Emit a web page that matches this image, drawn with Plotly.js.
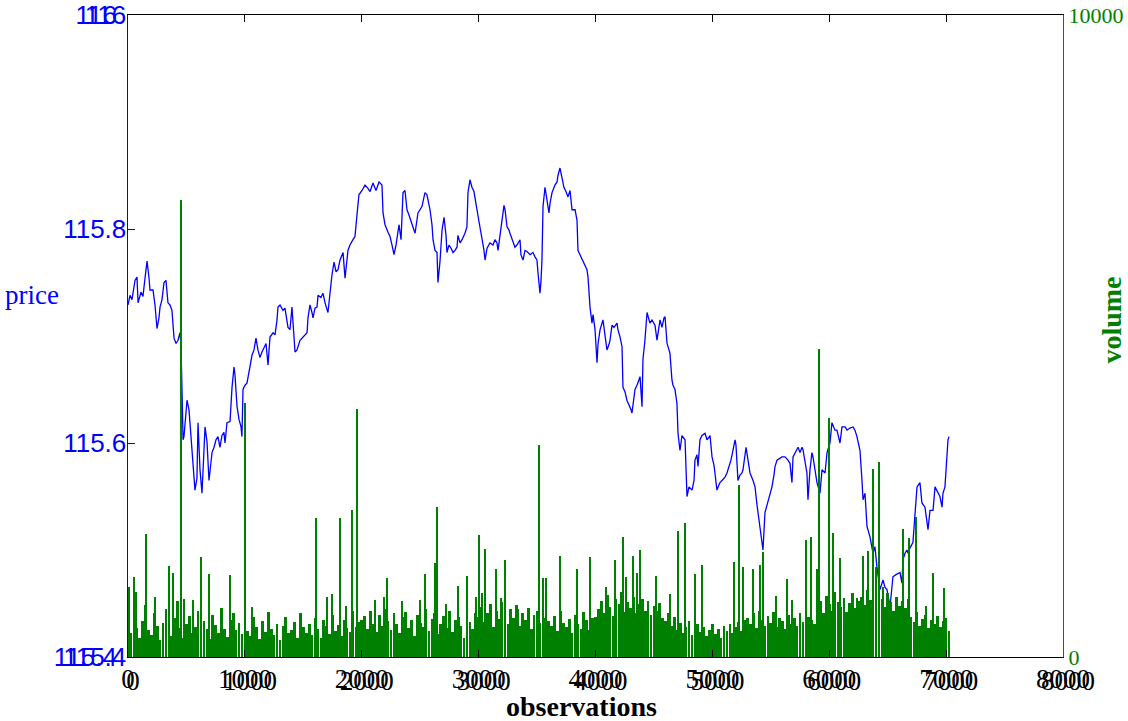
<!DOCTYPE html>
<html>
<head>
<meta charset="utf-8">
<script src="https://cdn.plot.ly/plotly-3.0.1.min.js"></script>
<style>html,body{margin:0;padding:0;background:#fff;}#chart{width:1128px;height:721px;}</style>
</head>
<body>
<div id="chart"></div>
<script>
// ---- data ----
const xTicks = [0, 1000, 2000, 3000, 4000, 5000, 6000, 7000, 8000];
const priceTicks = [115.4, 115.6, 115.8, 116];
const priceEndTicks = [115.4, 116];
const volumeTicks = [0, 10000];

const priceObs = [0,17,34,60,77,86,111,128,154,163,180,188,214,231,248,265,274,291,308,325,342,359,376,394,411,428,445,453,462,471,479,488,505,522,530,548,565,573,590,599,616,633,650,659,676,693,710,719,736,753,770,787,804,821,830,847,873,890,907,915,933,950,967,975,984,1001,1018,1044,1061,1078,1095,1112,1129,1146,1164,1181,1198,1215,1241,1258,1275,1283,1301,1326,1343,1369,1386,1403,1429,1446,1472,1506,1532,1540,1557,1574,1583,1600,1617,1626,1651,1668,1686,1711,1728,1745,1763,1780,1797,1814,1840,1857,1882,1899,1925,1942,1959,1976,2002,2028,2053,2071,2096,2122,2148,2173,2182,2199,2225,2242,2259,2276,2293,2302,2319,2336,2353,2370,2387,2404,2421,2438,2456,2481,2498,2515,2541,2558,2584,2601,2610,2627,2644,2652,2669,2687,2704,2721,2729,2746,2764,2781,2798,2815,2823,2841,2858,2883,2900,2909,2926,2943,2960,2969,2986,3003,3012,3029,3046,3055,3072,3097,3123,3140,3157,3166,3183,3200,3217,3226,3243,3260,3268,3294,3311,3328,3354,3362,3380,3397,3414,3440,3465,3482,3499,3508,3517,3525,3534,3542,3551,3568,3585,3602,3611,3628,3653,3671,3679,3696,3713,3730,3747,3765,3782,3799,3825,3842,3850,3867,3893,3910,3927,3936,3953,3970,3979,3996,4013,4022,4039,4064,4081,4098,4115,4124,4141,4158,4184,4192,4210,4227,4235,4252,4269,4287,4304,4312,4338,4355,4381,4398,4406,4423,4441,4466,4483,4509,4526,4552,4569,4586,4595,4612,4637,4654,4663,4680,4697,4706,4723,4740,4766,4783,4800,4826,4843,4851,4868,4877,4894,4911,4937,4954,4980,4997,5014,5022,5039,5057,5065,5082,5108,5125,5142,5159,5176,5194,5202,5219,5236,5253,5262,5288,5305,5322,5348,5365,5382,5399,5416,5433,5450,5467,5493,5510,5527,5536,5553,5578,5596,5621,5647,5664,5681,5690,5715,5733,5750,5767,5775,5809,5818,5835,5852,5861,5895,5912,5921,5938,5964,5981,6006,6023,6049,6066,6092,6109,6135,6152,6177,6203,6220,6237,6263,6280,6289,6306,6323,6349,6374,6391,6408,6434,6460,6477,6494,6520,6545,6571,6605,6622,6631,6648,6665,6674,6691,6716,6734,6751,6776,6793,6819,6836,6845,6862,6888,6905,6930,6947,6965,6973,6990,7007,7016,7025];

const price = [115.729,115.738,115.734,115.752,115.755,115.731,115.741,115.737,115.762,115.770,115.754,115.743,115.743,115.729,115.707,115.717,115.727,115.734,115.750,115.752,115.731,115.729,115.724,115.698,115.693,115.696,115.703,115.692,115.650,115.603,115.606,115.617,115.640,115.631,115.619,115.598,115.575,115.556,115.567,115.619,115.575,115.553,115.593,115.615,115.601,115.565,115.582,115.591,115.596,115.603,115.606,115.596,115.607,115.610,115.600,115.619,115.620,115.652,115.671,115.664,115.634,115.622,115.615,115.606,115.650,115.654,115.656,115.671,115.682,115.687,115.698,115.687,115.680,115.685,115.690,115.693,115.673,115.699,115.703,115.701,115.715,115.727,115.729,115.724,115.726,115.708,115.706,115.727,115.685,115.687,115.696,115.700,115.703,115.717,115.729,115.722,115.717,115.726,115.727,115.738,115.736,115.740,115.731,115.722,115.743,115.757,115.769,115.760,115.762,115.771,115.778,115.754,115.780,115.785,115.790,115.793,115.813,115.832,115.836,115.841,115.838,115.835,115.843,115.836,115.844,115.841,115.815,115.804,115.797,115.793,115.785,115.776,115.785,115.793,115.804,115.790,115.834,115.836,115.818,115.813,115.807,115.801,115.796,115.815,115.818,115.821,115.834,115.832,115.818,115.804,115.790,115.780,115.778,115.750,115.769,115.799,115.811,115.794,115.778,115.785,115.782,115.778,115.780,115.783,115.794,115.787,115.790,115.796,115.802,115.834,115.846,115.839,115.835,115.830,115.818,115.807,115.802,115.790,115.780,115.771,115.782,115.787,115.785,115.790,115.787,115.780,115.797,115.808,115.822,115.818,115.802,115.799,115.796,115.787,115.783,115.785,115.790,115.776,115.771,115.780,115.779,115.776,115.778,115.774,115.771,115.759,115.743,115.740,115.752,115.771,115.821,115.839,115.827,115.815,115.824,115.834,115.841,115.844,115.850,115.857,115.848,115.839,115.835,115.830,115.836,115.818,115.818,115.808,115.780,115.776,115.769,115.766,115.762,115.755,115.727,115.712,115.720,115.706,115.675,115.693,115.706,115.715,115.701,115.687,115.692,115.696,115.710,115.708,115.712,115.706,115.699,115.690,115.652,115.648,115.640,115.636,115.631,115.628,115.650,115.654,115.662,115.634,115.678,115.696,115.722,115.712,115.715,115.710,115.696,115.715,115.708,115.717,115.718,115.693,115.684,115.659,115.654,115.650,115.637,115.609,115.593,115.607,115.603,115.550,115.559,115.556,115.565,115.584,115.589,115.578,115.603,115.607,115.609,115.603,115.607,115.587,115.579,115.572,115.556,115.561,115.563,115.565,115.568,115.572,115.578,115.584,115.593,115.603,115.598,115.565,115.570,115.572,115.575,115.596,115.584,115.572,115.565,115.559,115.542,115.528,115.516,115.500,115.535,115.542,115.550,115.559,115.570,115.578,115.584,115.586,115.587,115.587,115.584,115.581,115.563,115.587,115.593,115.596,115.591,115.596,115.594,115.572,115.547,115.575,115.591,115.587,115.563,115.556,115.553,115.575,115.572,115.591,115.600,115.619,115.612,115.612,115.600,115.615,115.615,115.612,115.614,115.615,115.612,115.606,115.593,115.565,115.547,115.553,115.522,115.512,115.497,115.503,115.484,115.463,115.472,115.465,115.463,115.447,115.475,115.477,115.479,115.469,115.491,115.497,115.500,115.497,115.502,115.507,115.531,115.559,115.563,115.544,115.540,115.528,115.519,115.537,115.537,115.559,115.553,115.550,115.540,115.553,115.559,115.582,115.603,115.606];

// background trading volume, one value per 25 observations (obs 0 .. 7025)
const volumeBase = [
 620,380,720,450,300,560,810,420,350,690,480,260,530,740,410,330,600,870,450,290,520,640,380,470,710,350,560,430,280,650,500,370,760,440,310,580,690,420,530,360,
 520,410,330,620,470,280,560,390,700,440,350,510,260,480,630,370,420,550,300,690,460,380,520,340,600,430,290,570,480,360,650,410,500,320,580,450,390,720,470,540,
 580,640,430,720,520,390,660,480,750,560,420,690,510,380,620,700,450,580,330,660,530,470,740,410,590,680,360,520,640,450,710,390,570,620,480,300,650,540,430,690,
 620,780,540,690,830,470,720,590,860,650,510,740,600,810,480,690,570,760,440,650,720,530,680,600,
 560,480,640,410,720,530,460,590,380,650,510,440,700,570,420,600,
 620,750,880,690,960,780,640,910,820,1020,700,860,760,940,680,830,900,720,870,650,790,710,840,600,
 560,690,480,620,420,530,380,470,560,340,450,510,390,470,330,420,510,360,440,300,480,400,520,370,460,540,410,580,
 600,520,680,450,720,580,490,640,530,700,470,610,560,430,650,520,600,480,690,540,460,620,580,510,
 760,880,690,950,820,720,1010,860,780,920,700,840,990,760,870,930,810,1050,890,740,960,830,900,780,1000,850,720,940,800,880,760,910,
 620,540,700,480,590,660,450,580,520,640,470,560,600,400];
const volumeBaseStep = 25;

// individual volume spikes (observation, volume)
const spikeObs = [9,51,68,154,231,351,385,453,479,556,625,693,873,1001,1061,1609,1703,1745,1814,1865,1917,1959,2113,2190,2216,2344,2498,2541,2627,2644,2721,2823,2900,2977,3003,3029,3055,3149,3191,3226,3337,3517,3551,3576,3696,3842,3953,4090,4167,4235,4261,4321,4355,4381,4518,4637,4706,4766,4851,4911,5185,5228,5262,5348,5407,5433,5544,5638,5681,5801,5844,5895,5912,5998,6032,6092,6237,6289,6331,6374,6400,6426,6460,6631,6682,6742,6828,6888,6982];
const spikeVol = [1090,1250,1010,1920,935,1420,1310,7120,900,890,1560,1290,1280,3960,780,2165,935,980,2165,790,2290,3860,890,935,1230,870,890,1290,1460,2340,830,1110,1260,935,1900,1000,1680,1370,920,1510,750,3300,1230,1230,1570,1370,1560,1090,1510,1870,1250,1570,1310,1670,1260,980,1960,2090,1290,1430,1480,2680,1400,1370,1430,1640,950,1210,890,1820,1870,1370,4800,3720,1930,1540,920,1570,1650,2930,1400,3040,1090,2000,1850,2180,790,1310,1075];

// ---- drawing ----
const BLUE = '#0000ff', GREEN = '#008000';
const baseObs = volumeBase.map((v, i) => i * volumeBaseStep);

const traces = [
  {type:'scatter', mode:'lines', x:priceObs, y:price, xaxis:'x', yaxis:'y',
   line:{color:BLUE, width:1.3}, hoverinfo:'skip'},
  {type:'bar', x:baseObs, y:volumeBase, xaxis:'x', yaxis:'y2', width:23,
   marker:{color:GREEN, line:{width:0}}},
  {type:'bar', x:spikeObs, y:spikeVol, xaxis:'x', yaxis:'y2', width:11,
   marker:{color:GREEN, line:{width:0}}},
  // carriers for the doubled tick labels
  {type:'scatter', mode:'lines', x:[], y:[], xaxis:'x2', yaxis:'y'},
  {type:'scatter', mode:'lines', x:[], y:[], xaxis:'x', yaxis:'y3'}
];

const serif = 'Liberation Serif, Times New Roman, serif';
const sans = 'Liberation Sans, Arial, sans-serif';

const layout = {
  width:1128, height:721,
  margin:{l:128, r:65, t:15, b:64, pad:0},
  paper_bgcolor:'#ffffff', plot_bgcolor:'#ffffff',
  showlegend:false, barmode:'overlay', bargap:0,
  xaxis:{range:[0,8000], tickmode:'array', tickvals:xTicks, ticktext:xTicks.map(String),
    showgrid:false, zeroline:false, showline:true, linecolor:'#000', linewidth:1,
    mirror:'ticks', ticks:'inside', ticklen:7, tickcolor:'#000', tickwidth:1,
    tickfont:{family:serif, size:27, color:'#000'}, ticklabelstandoff:-2},
  xaxis2:{overlaying:'x', anchor:'y', side:'bottom', range:[0,8000], tickmode:'array',
    tickvals:xTicks, ticktext:xTicks.map(String), showgrid:false, zeroline:false,
    showline:false, ticks:'', ticklabelshift:5, ticklabelstandoff:5,
    tickfont:{family:serif, size:27, color:'#000'}},
  yaxis:{range:[115.4,116], tickmode:'array', tickvals:priceTicks, ticktext:priceTicks.map(String),
    showgrid:false, zeroline:false, showline:true, linecolor:BLUE, linewidth:1.5,
    ticks:'inside', ticklen:7, tickcolor:BLUE, tickfont:{family:sans, size:26, color:BLUE},
    ticklabelstandoff:-5},
  yaxis3:{overlaying:'y', anchor:'x', side:'left', range:[115.4,116], tickmode:'array',
    tickvals:priceEndTicks, ticktext:priceEndTicks.map(String), showgrid:false, zeroline:false,
    showline:false, ticks:'', tickfont:{family:sans, size:26, color:BLUE}, ticklabelstandoff:10},
  yaxis2:{overlaying:'y', anchor:'x', side:'right', range:[0,10000], tickmode:'array',
    tickvals:volumeTicks, ticktext:volumeTicks.map(String), showgrid:false, zeroline:false,
    showline:true, linecolor:GREEN, linewidth:1, ticks:'inside', ticklen:7, tickcolor:GREEN,
    tickfont:{family:serif, size:22, color:GREEN}, ticklabelstandoff:0},
  annotations:[
    {text:'price', xref:'paper', yref:'paper', x:-0.134, y:0.564, xanchor:'left', yanchor:'middle',
     showarrow:false, font:{family:serif, size:27, color:BLUE}},
    {text:'<b>volume</b>', xref:'paper', yref:'paper', x:1.052, y:0.525, xanchor:'center', yanchor:'middle',
     textangle:-90, showarrow:false, font:{family:serif, size:28, color:GREEN}},
    {text:'<b>observations</b>', xref:'paper', yref:'paper', x:0.4845, y:-0.077, xanchor:'center', yanchor:'middle',
     showarrow:false, font:{family:serif, size:28, color:'#000'}}
  ]
};

Plotly.newPlot('chart', traces, layout, {staticPlot:true, displayModeBar:false});
</script>
</body>
</html>
